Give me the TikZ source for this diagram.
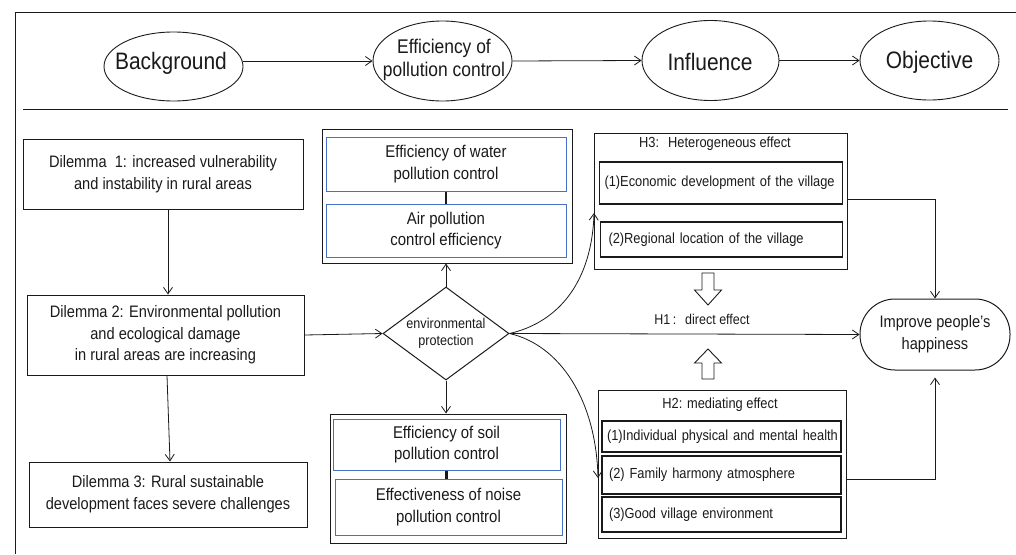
\documentclass[tikz,border=0pt]{standalone}
\usepackage{fontspec}
\setmainfont{Liberation Sans}[FakeStretch=0.88]
\usetikzlibrary{arrows.meta,shapes.geometric,calc}
\definecolor{bluebox}{HTML}{4472C4}
\definecolor{ink}{HTML}{1A1A1A}
\begin{document}
\begin{tikzpicture}[x=1pt,y=-1pt,
  arr/.style={-{Straight Barb[length=6.5pt,width=9pt]}, line width=0.8pt, draw=ink},
  ell/.style={ellipse, draw=ink, line width=0.9pt, inner sep=0pt},
  etxt/.style={inner sep=0pt, text=ink, align=center},
  bigtxt/.style={font={\fontsize{23.8}{26}\selectfont}},
  box/.style={rectangle, draw=ink, line width=1pt, inner sep=0pt, text=ink, align=center},
  dtxt/.style={font={\fontsize{16.6}{21.7}\selectfont}},
  bbox/.style={rectangle, draw=bluebox, line width=1pt, inner sep=0pt, text=ink, align=center, font={\fontsize{17}{21.7}\selectfont}},
  ibox/.style={rectangle, draw=ink, line width=1.2pt, inner ysep=0pt, inner xsep=5pt, text=ink, align=left, font={\fontsize{14.6}{17}\selectfont}},
  lbl/.style={inner sep=0pt, text=ink, font={\fontsize{14.6}{17}\selectfont}},
  thick link/.style={line width=2.5pt, draw=ink},
  hollow/.style={draw=ink, line width=0.9pt, fill=white}
]
\useasboundingbox (0,0) rectangle (1016,554);
% frame
\draw[ink, line width=1pt] (1016,12) -- (15,12) -- (15,554);
\draw[ink, line width=1pt] (23,109) -- (1008,109);

% top row
\node[ell, minimum width=139, minimum height=69] (bg) at (173.5,66.5) {};
\node[etxt, bigtxt] (bgt) at (171,63.5) {Background};
\node[ell, minimum width=139, minimum height=80] (eff) at (442.5,61) {};
\node[etxt, font={\fontsize{19.8}{23}\selectfont}] (efft) at (444,60) {Efficiency of\\pollution control};
\node[ell, minimum width=137, minimum height=80] (infl) at (710.5,60.5) {};
\node[etxt, bigtxt] (inflt) at (710,62) {Influence};
\node[ell, minimum width=139, minimum height=79] (obj) at (929.5,60.5) {};
\node[etxt, bigtxt] (objt) at (929.5,62) {Objective};
\draw[arr] (bg.east |- eff.west) -- (eff.west);
\draw[arr] (eff.east) -- (infl.west);
\draw[arr] (infl.east) -- (obj.west);

% dilemmas
\node[box, dtxt, minimum width=280, minimum height=70] (d1) at (163,174) {Dilemma\ \ 1: increased vulnerability\\and instability in rural areas};
\node[box, dtxt, minimum width=277, minimum height=80] (d2) at (165.5,335) {Dilemma 2: Environmental pollution\\and ecological damage\\in rural areas are increasing};
\node[box, dtxt, minimum width=278, minimum height=65] (d3) at (168,494.5) {Dilemma 3: Rural sustainable\\development faces severe challenges};
\draw[arr] ([xshift=5pt]d1.south) -- ([xshift=2.5pt]d2.north);
\draw[arr] ([xshift=1.5pt]d2.south) -- ([xshift=2pt]d3.north);

% diamond
\node[diamond, draw=ink, line width=1pt, inner sep=0pt, shape aspect=1.35, minimum width=126, minimum height=93, align=center, text=ink, font={\fontsize{14.3}{17.5}\selectfont}] (dia) at (446,333.5) {environmental\\protection};
\draw[arr] (d2.east) -- (dia.west);

% top pollution box
\node[box, minimum width=250, minimum height=134] (tb) at (447,196) {};
\node[bbox, minimum width=240, minimum height=54] (b1) at (446,164) {Efficiency of water\\pollution control};
\node[bbox, minimum width=240, minimum height=53] (b2) at (446,230.5) {Air pollution\\control efficiency};
\draw[thick link] (b1.south) -- (b2.north);
\draw[arr] (dia.north) -- (dia.north |- tb.south);

% bottom pollution box
\node[box, minimum width=236, minimum height=129] (bb) at (448,478.5) {};
\node[bbox, minimum width=227, minimum height=51] (b3) at (446.5,444.5) {Efficiency of soil\\pollution control};
\node[bbox, minimum width=227, minimum height=56] (b4) at (448.5,507) {Effectiveness of noise\\pollution control};
\draw[thick link] (b3.south) -- (b3.south |- b4.north);
\draw[arr] (dia.south) -- (dia.south |- bb.north);

% H3 box
\node[box, minimum width=253, minimum height=136] (h3) at (720.5,201) {};
\node[lbl] (h3t) at (715,144) {H3:\hspace{9pt}Heterogeneous effect};
\node[ibox, text width=233, minimum height=42] (h3a) at (721,183) {\mbox{(1)Economic development of the village}};
\node[ibox, text width=232, minimum height=35] (h3b) at (721.5,239.5) {\hspace{3pt}(2)Regional location of the village};

% H2 box
\node[box, minimum width=248, minimum height=148] (h2) at (722,464) {};
\node[lbl] (h2t) at (720,405) {H2: mediating effect};
\node[ibox, text width=229, minimum height=31] (h2a) at (721.5,436.5) {\mbox{(1)Individual physical and mental health}};
\node[ibox, text width=229, minimum height=38] (h2b) at (721.5,475) {\hspace{2pt}(2) Family harmony atmosphere};
\node[ibox, text width=229, minimum height=35] (h2c) at (721.5,514.5) {\hspace{2pt}(3)Good village environment};

% H1 and improve
\node[lbl, font={\fontsize{14.2}{17}\selectfont}] (h1) at (702,319) {H1\,:\hspace{9pt}direct effect};
\node[rectangle, rounded corners=35pt, draw=ink, line width=1pt, minimum width=150, minimum height=71, inner sep=0pt, align=center, text=ink, font={\fontsize{16.6}{22}\selectfont}] (imp) at (935,334.5) {Improve people's\\happiness};

% hollow arrows
\draw[hollow, shift={(708,273)}] (-6,0) -- (6,0) -- (6,17) -- (13.5,17) -- (0,32) -- (-13.5,17) -- (-6,17) -- cycle;
\draw[hollow, shift={(708,379)}] (-6,0) -- (6,0) -- (6,-16) -- (13.5,-16) -- (0,-30) -- (-13.5,-16) -- (-6,-16) -- cycle;

% connectors from diamond
\coordinate (h3in) at (594,213);
\coordinate (h2in) at (598,478);
\draw[arr] (dia.east) .. controls (560,322) and (592,280) .. (h3in);
\draw[arr] (dia.east) .. controls (560,345) and (596,400) .. (h2in);
\draw[arr] (dia.east) -- (imp.west);

% to improve
\coordinate (h3out) at (847,199);
\coordinate (h2out) at (846,479);
\draw[arr] (h3out) -| (imp.north);
\draw[arr, shorten >=7pt] (h2out) -| (imp.south);
\end{tikzpicture}
\end{document}
